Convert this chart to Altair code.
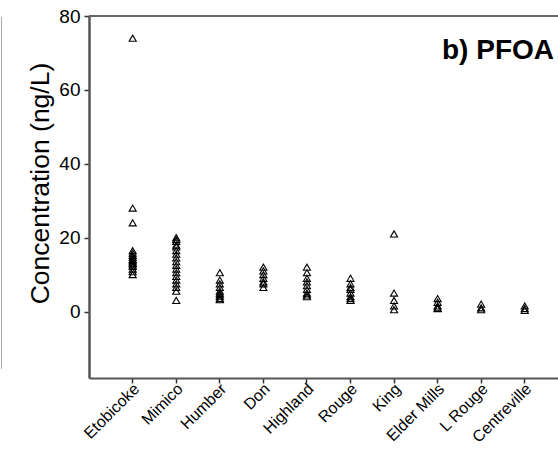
import altair as alt
import pandas as pd

sites = ["Etobicoke", "Mimico", "Humber", "Don", "Highland", "Rouge",
         "King", "Elder Mills", "L Rouge", "Centreville"]

etobicoke = [74, 28, 24, 16.5, 15.8, 15.2, 14.7, 14.2, 13.8, 13.4, 13, 12.6, 12.2, 11.5, 10.8, 10]
mimico = [20, 19.5, 19, 18, 17.5, 16.5, 15.5, 14.5, 13.5, 12.5, 11.5, 10.5, 9.5, 8.5, 7.5, 6.5, 5.5, 3]
humber = [10.5, 8.5, 7.5, 6.5, 5.5, 5, 4.5, 4, 3.5, 3.2]
don = [12, 11, 10, 9, 8, 7.5, 6.5]
highland = [12, 10.5, 9, 8, 7, 6, 5, 4.5, 4]
rouge = [9, 7.5, 6.5, 6, 5, 4, 3.5, 3]
king = [21, 5, 3, 1.5, 0.5]
elder_mills = [3.5, 2.5, 1.5, 1, 0.8]
l_rouge = [2, 1, 0.5]
centreville = [1.5, 0.8, 0.3]

series = [etobicoke, mimico, humber, don, highland, rouge, king, elder_mills, l_rouge, centreville]
rows = []
for s, vals in zip(sites, series):
    for v in vals:
        rows.append({"site": s, "conc": v})
df = pd.DataFrame(rows)

W, H = 469, 362
FONT = "Liberation Sans"

points = alt.Chart(df).mark_point(
    shape="triangle-up", filled=False, color="black", strokeWidth=1.1, size=50, opacity=1
).encode(
    x=alt.X("site:N", sort=sites,
            scale=alt.Scale(type="band", paddingInner=0, paddingOuter=0.3835, align=0.656),
            axis=alt.Axis(title=None, labelAngle=-45, labelFontSize=16, labelFont=FONT,
                          labelColor="black", tickSize=5, tickColor="#333", tickWidth=1.5,
                          domainColor="#555", domainWidth=2, labelPadding=3, labelOffset=4,
                          labelAlign="right", labelBaseline="middle")),
    y=alt.Y("conc:Q", scale=alt.Scale(domain=[-18, 80], nice=False, zero=False),
            axis=alt.Axis(title="Concentration (ng/L)", values=[0, 20, 40, 60, 80],
                          grid=False, labelFontSize=19, labelFont=FONT, labelColor="black",
                          tickSize=5, tickColor="#333", tickWidth=1.5,
                          domainColor="#555", domainWidth=2.5, labelPadding=4,
                          titleFont=FONT, titleFontSize=26.5, titleFontWeight="normal",
                          titleColor="black", titleX=-49, titleY=167,
                          titleAlign="center", titleBaseline="middle", titleAngle=-90)),
)

top_line = alt.Chart(pd.DataFrame({"k": [0]})).mark_rule(color="#666", strokeWidth=2).encode(
    x=alt.value(0), x2=alt.value(W), y=alt.value(0)
)

left_border = alt.Chart(pd.DataFrame({"k": [0]})).mark_rule(color="#aaa", strokeWidth=1).encode(
    x=alt.value(-87.5), y=alt.value(1), y2=alt.value(353)
)

label = alt.Chart(pd.DataFrame({"t": ["b) PFOA"]})).mark_text(
    font=FONT, fontSize=28, fontWeight="bold", color="black", align="right", baseline="alphabetic"
).encode(
    text="t:N", x=alt.value(465), y=alt.value(43)
)

chart = alt.layer(points, top_line, left_border, label).properties(
    width=W, height=H,
    autosize=alt.AutoSizeParams(type="none"),
    padding={"left": 89, "top": 16, "right": 0, "bottom": 79},
).configure_view(stroke=None).configure(background="white")

chart.save("out.html", embed_options={"renderer": "svg", "actions": False})
